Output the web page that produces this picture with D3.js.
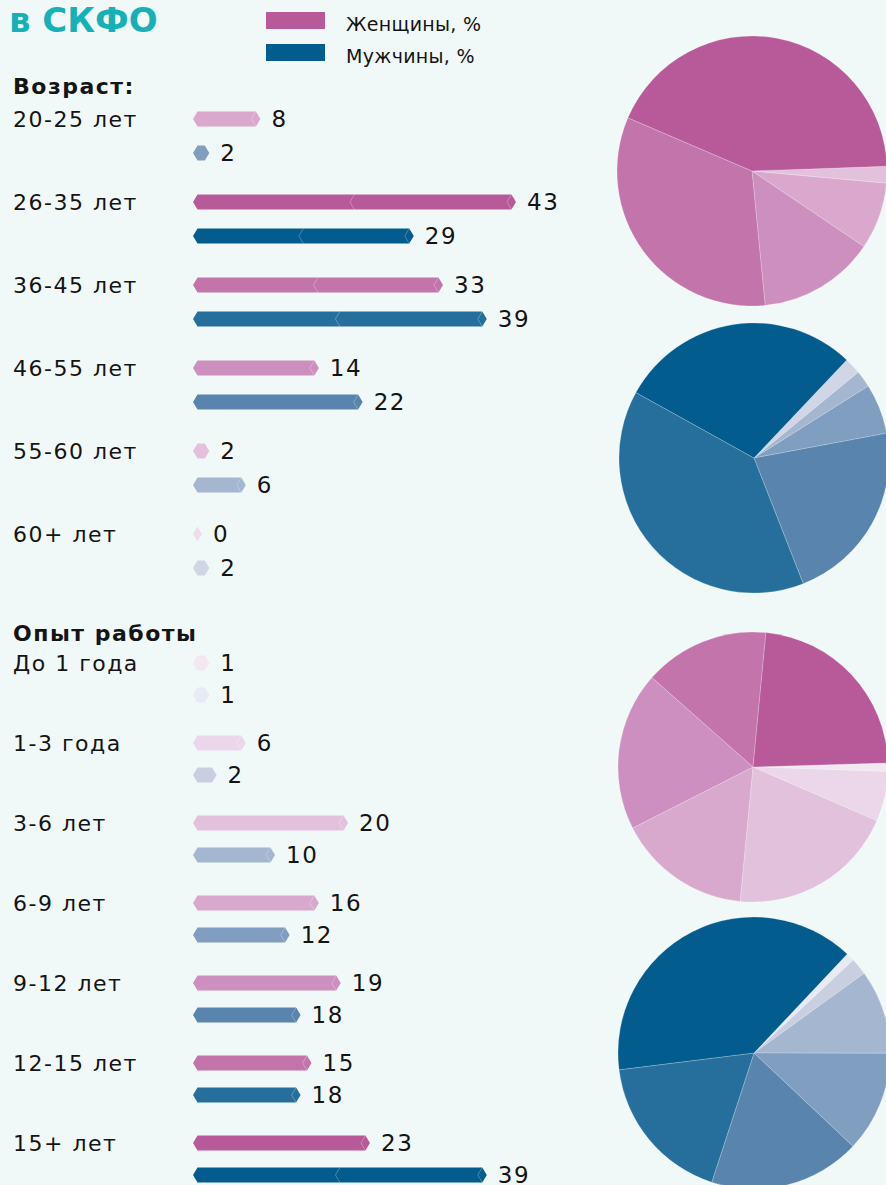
<!DOCTYPE html>
<html><head><meta charset="utf-8">
<script src="https://cdn.jsdelivr.net/npm/d3@7"></script>
<style>
html,body{margin:0;padding:0;background:#f1f9f8;}
svg{display:block;}
text{font-family:"DejaVu Sans",Inter,sans-serif;fill:#141414;}
</style></head>
<body>
<svg id="c" width="886" height="1185"></svg>
<script>
// ---------- DATA ----------
const title = "в СКФО";
const legendLabels = ["Женщины, %", "Мужчины, %"];
const legendColors = ["#b85a9a", "#025c8e"];

const ageTitle = "Возраст:";
const ageCategories = ["20-25 лет", "26-35 лет", "36-45 лет", "46-55 лет", "55-60 лет", "60+ лет"];
// printed values
const ageWomen = [8, 43, 33, 14, 2, 0];
const ageMen = [2, 29, 39, 22, 6, 2];
// bar lengths as drawn in the picture
const ageWomenBar = [8, 43, 33, 16, 1, 0];
const ageMenBar = [1, 29, 39, 22, 6, 1];
const ageWomenColors = ["#d9a8cc", "#b85a9a", "#c375ab", "#cd8fbe", "#e3c1dd", "#eedcec"];
const ageMenColors = ["#7f9ec0", "#025c8e", "#266f9c", "#5884ae", "#a4b6d0", "#d0d6e6"];
// pie slices, clockwise, as drawn
const agePieOrder = [5, 4, 0, 3, 2, 1];
const ageWomenPie = [0, 2, 8, 14, 33, 43];
const ageMenPie = [2, 2, 6, 22, 39, 29];

const expTitle = "Опыт работы";
const expCategories = ["До 1 года", "1-3 года", "3-6 лет", "6-9 лет", "9-12 лет", "12-15 лет", "15+ лет"];
const expWomen = [1, 6, 20, 16, 19, 15, 23];
const expMen = [1, 2, 10, 12, 18, 18, 39];
const expWomenBar = [1, 6, 20, 16, 19, 15, 23];
const expMenBar = [1, 2, 10, 12, 13.5, 13.5, 39];
const expWomenColors = ["#f3e7f1", "#ecd7ea", "#e2c1dd", "#d8a9cd", "#cd8fbf", "#c375ab", "#b85a9a"];
const expMenColors = ["#e8eaf4", "#c9cfe1", "#a4b6d0", "#7f9ec0", "#5884ae", "#266f9c", "#025c8e"];
const expPieOrder = [0, 1, 2, 3, 4, 5, 6];

// ---------- LAYOUT ----------
const svg = d3.select("#c");
const barX0 = 193, cap = 4.5, barH = 15;
const x = d3.scaleLinear().domain([0, 43]).range([0, 314]);

svg.append("text").attr("x", 9).attr("y", 32)
  .style("font-size", "34px").style("font-weight", 700).style("fill", "#16b1b6")
  .text(title);

legendLabels.forEach((l, i) => {
  svg.append("rect").attr("x", 266).attr("y", 12 + 32 * i).attr("width", 59).attr("height", 17)
    .attr("fill", legendColors[i]);
  svg.append("text").attr("x", 346).attr("y", 30.5 + 32 * i)
    .style("font-size", "19px").style("letter-spacing", "0.3px").text(l);
});

function hexPath(v, cy) {
  const w = x(v);
  const x0 = barX0, h = barH / 2;
  return `M${x0},${cy} L${x0 + cap},${cy - h} L${x0 + cap + w},${cy - h} L${x0 + 2 * cap + w},${cy} L${x0 + cap + w},${cy + h} L${x0 + cap},${cy + h} Z`;
}
function chevron(xx, cy) {
  const h = barH / 2;
  return `M${xx + cap},${cy - h} L${xx},${cy} L${xx + cap},${cy + h}`;
}

function drawBar(v, label, cy, color) {
  const g = svg.append("g");
  g.append("path").attr("d", hexPath(v, cy)).attr("fill", color);
  if (v >= 3) {
    g.append("path").attr("d", chevron(barX0 + x(v), cy)).attr("fill", "none")
      .attr("stroke", "rgba(255,255,255,0.35)").attr("stroke-width", 0.8);
  }
  if (v >= 25) {
    g.append("path").attr("d", chevron(barX0 + x(v) / 2, cy)).attr("fill", "none")
      .attr("stroke", "rgba(255,255,255,0.35)").attr("stroke-width", 0.8);
  }
  svg.append("text").attr("x", barX0 + 2 * cap + x(v) + 11).attr("y", cy)
    .attr("dy", "0.36em").style("font-size", "23px").style("letter-spacing", "1.6px").text(label);
}

function section(titleText, titleY, cats, women, men, womenBar, menBar, wc, mc, y0, step, gap) {
  svg.append("text").attr("x", 13).attr("y", titleY).attr("dy", "0.36em")
    .style("font-size", "22px").style("font-weight", 700).style("letter-spacing", "1.5px").text(titleText);
  cats.forEach((c, i) => {
    const cy = y0 + step * i;
    svg.append("text").attr("x", 13).attr("y", cy).attr("dy", "0.36em")
      .style("font-size", "22px").style("letter-spacing", "1.5px").text(c);
    drawBar(womenBar[i], women[i], cy, wc[i]);
    drawBar(menBar[i], men[i], cy + gap, mc[i]);
  });
}

section(ageTitle, 86, ageCategories, ageWomen, ageMen, ageWomenBar, ageMenBar, ageWomenColors, ageMenColors, 119, 83, 34);
section(expTitle, 633, expCategories, expWomen, expMen, expWomenBar, expMenBar, expWomenColors, expMenColors, 663, 80, 32);

function drawPie(values, colors, cx, cy, r, startDeg) {
  const a0 = startDeg * Math.PI / 180;
  const pie = d3.pie().sort(null).value(d => d.v).startAngle(a0).endAngle(a0 + 2 * Math.PI);
  const arc = d3.arc().innerRadius(0).outerRadius(r);
  const data = values.map((v, i) => ({ v, c: colors[i] }));
  svg.append("g").attr("transform", `translate(${cx},${cy})`)
    .selectAll("path").data(pie(data)).join("path")
    .attr("d", arc).attr("fill", d => d.data.c)
    .attr("stroke", "rgba(255,255,255,0.35)").attr("stroke-width", 0.6);
}

drawPie(ageWomenPie, agePieOrder.map(i => ageWomenColors[i]), 752, 171, 135, 88);
drawPie(ageMenPie, agePieOrder.map(i => ageMenColors[i]), 754, 458, 135, 43.4);
drawPie(expPieOrder.map(i => expWomen[i]), expPieOrder.map(i => expWomenColors[i]), 753, 767, 135, 88.3);
drawPie(expPieOrder.map(i => expMen[i]), expPieOrder.map(i => expMenColors[i]), 754, 1053, 136, 43.3);
</script>
</body></html>
